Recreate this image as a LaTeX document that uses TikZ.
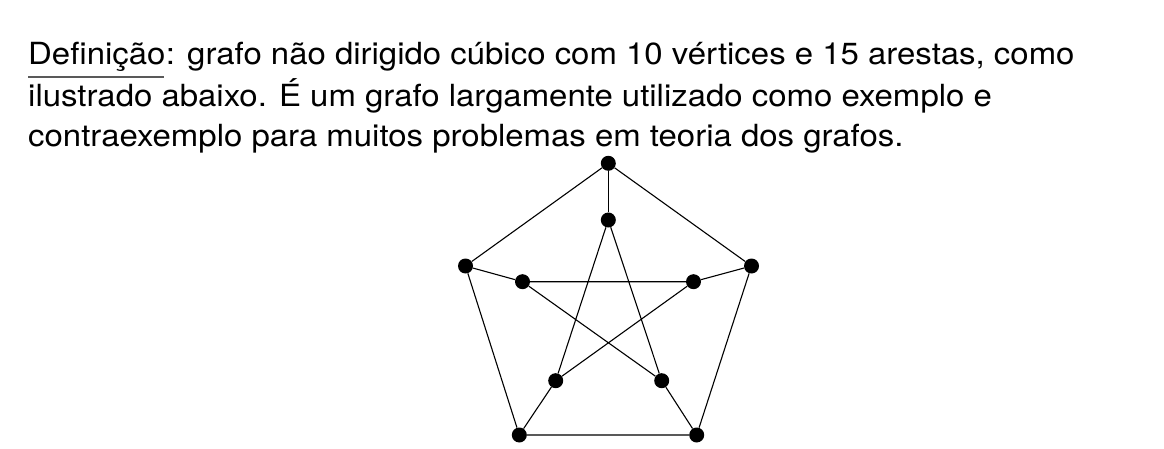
\documentclass[tikz,border=0pt]{standalone}
\usepackage{graphicx}
\usepackage{fontspec}
\setmainfont{TeX Gyre Heros}
\newcommand\widetxt[1]{\scalebox{1.08}[1]{#1}}
\begin{document}
\begin{tikzpicture}[x=1pt,y=-1pt,
  txt/.style={inner sep=0pt,anchor=base west,font=\fontsize{30.5}{41}\selectfont},
  vtx/.style={circle,fill=black,inner sep=0pt,minimum size=15pt},
  edge/.style={line width=1.1pt,black}]
\useasboundingbox (0,0) rectangle (1164,449);
% text
\node[txt] (def) at (28,65) {\widetxt{Definição}};
\node[txt] (l1) at (def.base east) {\widetxt{: grafo não dirigido cúbico com 10 vértices e 15 arestas, como}};
\node[txt] (l2) at (28,106.5) {\widetxt{ilustrado abaixo. É um grafo largamente utilizado como exemplo e}};
\node[txt] (l3) at (28,147) {\widetxt{contraexemplo para muitos problemas em teoria dos grafos.}};
\draw[gray!70!black,line width=1.2pt] ([yshift=-12pt]def.base west) -- ([yshift=-12pt,xshift=-1.5pt]def.base east);
% vertices
\node[vtx] (o1) at (608.3,163.3) {};
\node[vtx] (o2) at (751.5,266) {};
\node[vtx] (o3) at (696.7,435) {};
\node[vtx] (o4) at (519.3,435) {};
\node[vtx] (o5) at (465.5,266) {};
\node[vtx] (i1) at (608.3,220) {};
\node[vtx] (i2) at (693.5,281.7) {};
\node[vtx] (i3) at (661.7,380.7) {};
\node[vtx] (i4) at (555.7,380.7) {};
\node[vtx] (i5) at (522.5,281.7) {};
% edges
\draw[edge] (o1) -- (o2) -- (o3) -- (o4) -- (o5) -- (o1);
\draw[edge] (o1) -- (i1);
\draw[edge] (o2) -- (i2);
\draw[edge] (o3) -- (i3);
\draw[edge] (o4) -- (i4);
\draw[edge] (o5) -- (i5);
\draw[edge] (i1) -- (i3) -- (i5) -- (i2) -- (i4) -- (i1);
\end{tikzpicture}
\end{document}
